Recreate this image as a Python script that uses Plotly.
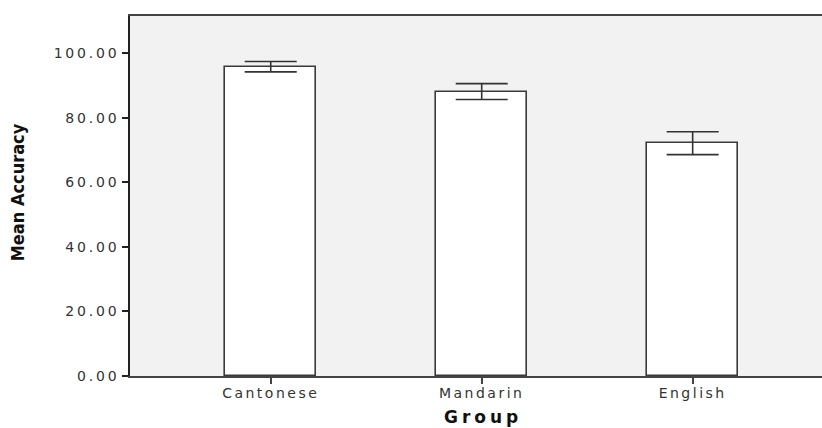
import plotly.graph_objects as go

# Mean accuracy by language group, with error bars
groups = ["Cantonese", "Mandarin", "English"]
mean_accuracy = [95.8, 88.1, 72.1]
error_half = [1.6, 2.45, 3.55]
y_ticks = [0, 20, 40, 60, 80, 100]
y_tick_labels = ["0.00", "20.00", "40.00", "60.00", "80.00", "100.00"]

fig = go.Figure()
fig.add_trace(go.Bar(
    x=list(range(len(groups))),
    y=mean_accuracy,
    width=0.43,
    marker=dict(color="white", line=dict(color="#3a3a3a", width=1.6)),
    error_y=dict(type="data", array=error_half, visible=True,
                 color="#333333", thickness=1.6, width=26),
    hoverinfo="skip",
))

fig.update_layout(
    width=822, height=428,
    margin=dict(l=130, r=0, t=16, b=52),
    paper_bgcolor="white",
    plot_bgcolor="#f2f2f2",
    showlegend=False,
    bargap=0,
    font=dict(family="DejaVu Sans", color="#333333"),
    xaxis=dict(
        range=[-0.667, 2.613],
        tickmode="array",
        tickvals=list(range(len(groups))),
        ticktext=groups,
        ticks="outside", ticklen=6, tickwidth=1.5, tickcolor="#444444",
        ticklabelstandoff=-3,
        tickfont=dict(family="DejaVu Sans", size=14, color="#333333"),
        showline=True, linecolor="#444444", linewidth=1.5, mirror=True,
        showgrid=False, zeroline=False,
    ),
    yaxis=dict(
        range=[0, 111.5],
        tickmode="array",
        tickvals=y_ticks,
        ticktext=y_tick_labels,
        ticks="outside", ticklen=6, tickwidth=1.5, tickcolor="#222222",
        tickfont=dict(family="DejaVu Sans", size=14, color="#333333"),
        showline=True, linecolor="#222222", linewidth=1.5,
        showgrid=False, zeroline=False,
    ),
    annotations=[
        dict(text="<b>Mean Accuracy</b>", textangle=-90,
             xref="paper", yref="paper", x=-0.162, y=0.51,
             xanchor="center", yanchor="middle", showarrow=False,
             font=dict(family="Liberation Sans Narrow, DejaVu Sans Condensed", size=18, color="#111111")),
        dict(text="<b>Group</b>",
             xref="paper", yref="paper", x=0.51, y=-0.115,
             xanchor="center", yanchor="middle", showarrow=False,
             font=dict(family="DejaVu Sans", size=17, color="#111111")),
    ],
)

# Widen the letter spacing of the horizontal labels
post = """
var gd = document.getElementById('{plot_id}');
function spread(sel, v) {
  gd.querySelectorAll(sel).forEach(function (t) { t.style.letterSpacing = v; });
}
spread('.xtick text', '2.5px');
spread('.ytick text', '2.8px');
spread('.annotation[data-index="1"] text', '4px');
"""

fig.write_html("out.html", post_script=post, config={"responsive": False, "displayModeBar": False})
